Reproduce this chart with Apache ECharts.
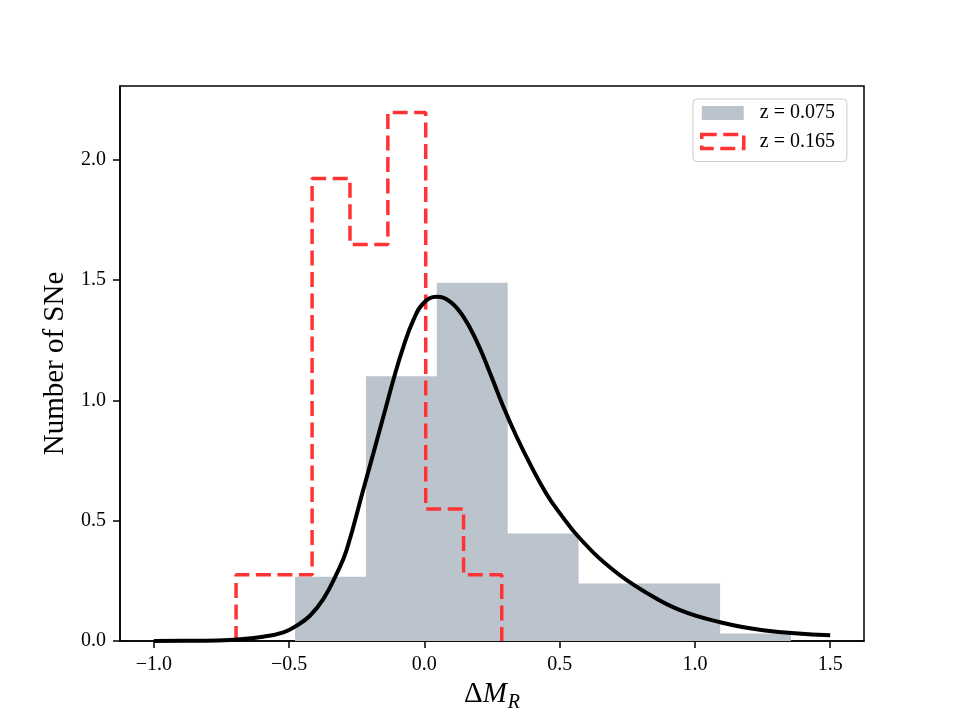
<!DOCTYPE html>
<html>
<head>
<meta charset="utf-8">
<script src="https://cdn.jsdelivr.net/npm/echarts@6/dist/echarts.min.js"></script>
<style>
  html, body { margin: 0; padding: 0; background: #ffffff; }
  #chart { width: 960px; height: 720px; }
</style>
</head>
<body>
<div id="chart"></div>
<script>
// histogram for z = 0.075 (filled), bin edges + heights
const grayEdges = [-0.478, -0.216, 0.046, 0.308, 0.570, 0.831, 1.093, 1.355];
const grayHeights = [0.267, 1.101, 1.489, 0.447, 0.239, 0.239, 0.031];

// histogram for z = 0.165 (dashed step)
const redEdges = [-0.696, -0.556, -0.415, -0.275, -0.135, 0.005, 0.145, 0.286];
const redHeights = [0.275, 0.275, 1.922, 1.648, 2.197, 0.549, 0.275];

// fitted curve
const curveX = [-1.0, -0.85, -0.72, -0.595, -0.521, -0.472, -0.423, -0.373, -0.324, -0.287,
  -0.2256, -0.1886, -0.1517, -0.1147, -0.0777, -0.0407, -0.0037, 0.046, 0.095,
  0.144, 0.194, 0.243, 0.292, 0.341, 0.391, 0.452, 0.495, 0.576, 0.698,
  0.823, 0.945, 1.093, 1.252, 1.5];
const curveY = [0.0, 0.001, 0.004, 0.018, 0.036, 0.064, 0.105, 0.175, 0.28, 0.38,
  0.63, 0.78, 0.932, 1.085, 1.223, 1.334, 1.404, 1.431, 1.411,
  1.348, 1.244, 1.113, 0.974, 0.849, 0.735, 0.61, 0.54, 0.425, 0.295,
  0.199, 0.128, 0.078, 0.045, 0.024];

const xTicks = [-1.0, -0.5, 0.0, 0.5, 1.0, 1.5];
const yTicks = [0.0, 0.5, 1.0, 1.5, 2.0];

const seriesNames = ['z = 0.075', 'z = 0.165'];

const GRAY = '#bbc4cd';
const RED = '#ff3333';
const FONT = '"Liberation Serif", "DejaVu Serif", serif';

// step data: each bin keeps its height until the next edge
const grayData = grayHeights.map((h, i) => [grayEdges[i], h]);
grayData.push([grayEdges[grayEdges.length - 1], grayHeights[grayHeights.length - 1]]);

const redData = [[redEdges[0], 0]];
redHeights.forEach((h, i) => redData.push([redEdges[i], h]));
redData.push([redEdges[redEdges.length - 1], 0]);

const curveData = curveX.map((x, i) => [x, curveY[i]]);

const fmt = (v) => (v < 0 ? '\u2212' : '') + Math.abs(v).toFixed(1);

const chart = echarts.init(document.getElementById('chart'), null, { renderer: 'canvas' });

chart.setOption({
  animation: false,
  backgroundColor: '#ffffff',
  grid: {
    left: 120, right: 96, top: 86, bottom: 79,
    show: true, borderColor: '#000', borderWidth: 1.5,
    backgroundColor: 'transparent'
  },
  legend: {
    orient: 'vertical',
    left: 693, top: 99,
    itemWidth: 42, itemHeight: 14, itemGap: 4.5,
    padding: [2, 12, 8, 7],
    borderColor: '#cccccc', borderWidth: 1, borderRadius: 4,
    backgroundColor: 'rgba(255,255,255,0.8)',
    textStyle: { fontFamily: FONT, fontSize: 20, color: '#000', lineHeight: 24, padding: [0, 0, 0, 11] },
    data: [
      { name: seriesNames[0], icon: 'rect', itemStyle: { color: GRAY, borderWidth: 0 } },
      { name: seriesNames[1], icon: 'rect', itemStyle: { color: 'rgba(0,0,0,0)', borderColor: RED, borderWidth: 3.5, borderType: [15, 6.5] } }
    ]
  },
  xAxis: {
    type: 'value',
    min: -1.125, max: 1.625,
    name: '{d|\u0394}{m|M}{r|R}',
    nameLocation: 'middle',
    nameGap: 25,
    nameTextStyle: {
      rich: {
        d: { fontFamily: FONT, fontSize: 29, color: '#000', lineHeight: 32, verticalAlign: 'top' },
        m: { fontFamily: FONT, fontSize: 29, fontStyle: 'italic', color: '#000', lineHeight: 32, verticalAlign: 'top' },
        r: { fontFamily: FONT, fontSize: 20, fontStyle: 'italic', color: '#000', lineHeight: 20, verticalAlign: 'top', padding: [13, 0, 0, 1] }
      }
    },
    axisLine: { show: true, onZero: false, lineStyle: { color: '#000', width: 1.5 } },
    axisTick: { show: true, inside: false, length: 7, customValues: xTicks, lineStyle: { color: '#000', width: 1.5 } },
    axisLabel: { customValues: xTicks, formatter: fmt, margin: 14, fontFamily: FONT, fontSize: 20, color: '#000' },
    splitLine: { show: false }
  },
  yAxis: {
    type: 'value',
    min: 0, max: 2.307,
    name: 'Number of SNe',
    nameLocation: 'middle',
    nameGap: 44,
    nameTextStyle: { fontFamily: FONT, fontSize: 29, color: '#000' },
    axisLine: { show: true, onZero: false, lineStyle: { color: '#000', width: 1.5 } },
    axisTick: { show: true, inside: false, length: 7, customValues: yTicks, lineStyle: { color: '#000', width: 1.5 } },
    axisLabel: { customValues: yTicks, formatter: fmt, margin: 14, fontFamily: FONT, fontSize: 20, color: '#000' },
    splitLine: { show: false }
  },
  series: [
    {
      name: seriesNames[0],
      type: 'line',
      step: 'end',
      data: grayData,
      symbol: 'none',
      itemStyle: { color: GRAY },
      lineStyle: { width: 0, color: GRAY },
      areaStyle: { color: GRAY, opacity: 1 },
      z: 1
    },
    {
      name: seriesNames[1],
      type: 'line',
      step: 'end',
      data: redData,
      symbol: 'none',
      itemStyle: { color: RED },
      lineStyle: { width: 3.5, color: RED, type: [15, 6.5] },
      z: 2
    },
    {
      name: 'fit',
      type: 'line',
      data: curveData,
      smooth: 0.45,
      symbol: 'none',
      lineStyle: { width: 4, color: '#000' },
      z: 3
    }
  ]
});
</script>
</body>
</html>
